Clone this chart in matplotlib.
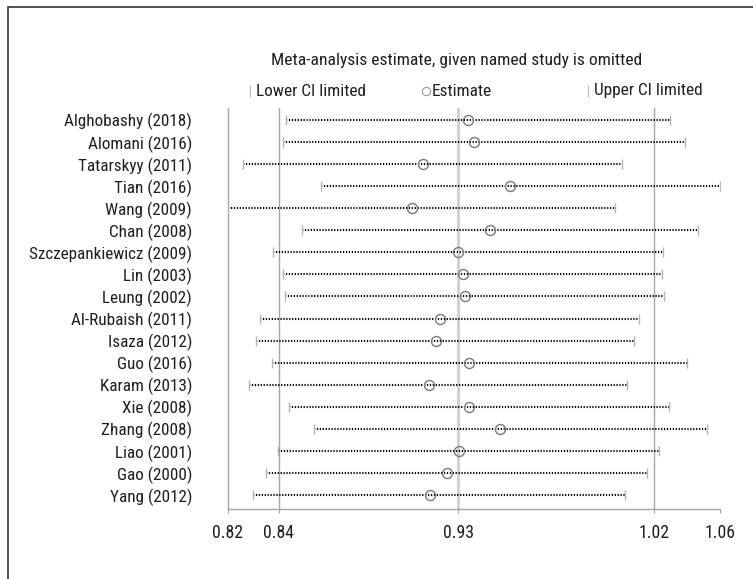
import numpy as np
import matplotlib
matplotlib.use("Agg")
import matplotlib.pyplot as plt
from matplotlib import font_manager
from matplotlib.lines import Line2D
from matplotlib.patches import Rectangle

# studies, top to bottom
studies = ["Alghobashy (2018)", "Alomani (2016)", "Tatarskyy (2011)", "Tian (2016)",
           "Wang (2009)", "Chan (2008)", "Szczepankiewicz (2009)", "Lin (2003)",
           "Leung (2002)", "Al-Rubaish (2011)", "Isaza (2012)", "Guo (2016)",
           "Karam (2013)", "Xie (2008)", "Zhang (2008)", "Liao (2001)",
           "Gao (2000)", "Yang (2012)"]
lower = [0.8434, 0.8422, 0.8258, 0.8610, 0.8200, 0.8516, 0.8378, 0.8419, 0.8430,
         0.8327, 0.8310, 0.8374, 0.8281, 0.8449, 0.8576, 0.8395, 0.8350, 0.8298]
estimate = [0.9347, 0.9373, 0.9123, 0.9540, 0.9069, 0.9447, 0.9300, 0.9324, 0.9334,
            0.9210, 0.9190, 0.9349, 0.9153, 0.9352, 0.9493, 0.9306, 0.9247, 0.9158]
upper = [1.0299, 1.0390, 1.0054, 1.0600, 1.0022, 1.0465, 1.0253, 1.0248, 1.0262,
         1.0131, 1.0108, 1.0398, 1.0077, 1.0291, 1.0521, 1.0230, 1.0166, 1.0067]

# axis ticks: min lower, overall lower CI, overall estimate, overall upper CI, max upper
tick_vals = [0.82, 0.84, 0.93, 1.02, 1.06]
tick_labels = ["0.82", "0.84", "0.93", "1.02", "1.06"]
ref_lines = [0.84, 0.93, 1.02]

title = "Meta-analysis estimate, given named study is omitted"
key_labels = ["Lower CI limited", "Estimate", "Upper CI limited"]

# the axis spacing is not linear between the ticks (pixel offsets of each tick)
axis_breaks = [0, 51, 230, 426, 492]


def fwd(v):
    return np.interp(v, tick_vals, axis_breaks)


def inv(p):
    return np.interp(p, axis_breaks, tick_vals)


# the original uses a condensed face; take the narrowest one that is installed
fonts = font_manager.fontManager.ttflist
names = {f.name for f in fonts}
narrow = [n for n in ['Liberation Sans Narrow', 'Roboto Condensed', 'Open Sans Condensed',
                      'Noto Sans Condensed', 'Arial Narrow'] if n in names]
if narrow:
    plt.rcParams['font.family'] = [narrow[0], 'DejaVu Sans']
elif any(f.name == 'DejaVu Sans' and f.stretch == 'condensed' for f in fonts):
    plt.rcParams['font.family'] = ['DejaVu Sans']
    plt.rcParams['font.stretch'] = 'condensed'
else:
    plt.rcParams['font.family'] = ['Lato', 'DejaVu Sans']

W, H = 753, 579
fig = plt.figure(figsize=(W / 100, H / 100), dpi=100)
renderer = fig.canvas.get_renderer()


def fit_size(s, target_px, base=11.0):
    t = fig.text(0, 0, s, fontsize=base)
    w = t.get_window_extent(renderer=renderer).width
    t.remove()
    return base * target_px / w


# a bit wider than the original so the letters are about as tall
fs_lab = fit_size("Szczepankiewicz (2009)", 164)
fs_title = fit_size(title, 368)
fs_key = fit_size(key_labels[0], 110)
fs_tick = fit_size("0.93", 31)

ax = fig.add_axes([228 / W, 1 - 509 / H, 492 / W, 401 / H])
ax.set_xscale('function', functions=(fwd, inv))

txt = '#1e1e1e'
y = np.arange(len(studies))

for v, c, w in zip(ref_lines, ['#a6a6a6', '#cfcfcf', '#a6a6a6'], [1.0, 2.0, 1.0]):
    ax.axvline(v, color=c, lw=w, zorder=1)

ax.hlines(y, lower, upper, colors='black', lw=1.5, linestyles=(0, (0.6, 0.8)), zorder=2)
ax.plot(lower, y, ls='none', marker='|', ms=7.5, mew=1.0, color='#b5b5b5', zorder=3)
ax.plot(upper, y, ls='none', marker='|', ms=7.5, mew=1.0, color='#b5b5b5', zorder=3)
ax.plot(estimate, y, ls='none', marker='o', ms=7.2, mfc='none', mec='#7a7a7a', mew=1.0, zorder=4)

ax.set_xlim(0.82, 1.06)
ax.set_ylim(len(studies) - 0.37, -0.54)
ax.set_xticks(tick_vals)
ax.set_xticklabels(tick_labels)
ax.set_yticks(y)
ax.set_yticklabels(studies)
ax.tick_params(axis='y', length=0, pad=26, labelsize=fs_lab, labelcolor=txt)
ax.tick_params(axis='x', length=3, color='#a6a6a6', pad=8, labelsize=fs_tick, labelcolor=txt)
ax.xaxis.set_minor_locator(plt.NullLocator())
for s in ['top', 'right']:
    ax.spines[s].set_visible(False)
for s in ['left', 'bottom']:
    ax.spines[s].set_color('#a6a6a6')
    ax.spines[s].set_linewidth(1.0)

# title and key, drawn above the plot
fig.text(457 / W, 1 - 60 / H, title, ha='center', va='center', fontsize=fs_title, color=txt)
key_y = 1 - 91 / H
for kx, m, lab in zip([250, 426, 588], ['|', 'o', '|'], key_labels):
    if m == 'o':
        fig.add_artist(Line2D([kx / W], [key_y], ls='none', marker='o', ms=6, mfc='none',
                              mec='#9a9a9a', mew=0.8, transform=fig.transFigure))
    else:
        fig.add_artist(Line2D([kx / W], [key_y], ls='none', marker='|', ms=8, mew=0.8,
                              color='#bdbdbd', transform=fig.transFigure))
    fig.text((kx + 6) / W, key_y, lab, ha='left', va='center', fontsize=fs_key, color=txt)

# outer frame
fig.add_artist(Rectangle((8 / W, -0.1), 1.2, 1 - 7 / H + 0.1, fill=False,
                         edgecolor='#333333', lw=1.2, transform=fig.transFigure))

fig.savefig("out.png", dpi=100)
